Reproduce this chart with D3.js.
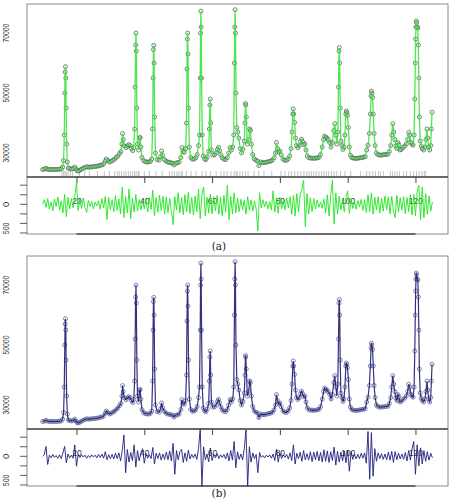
<!DOCTYPE html>
<html>
<head>
<meta charset="utf-8">
<script src="https://cdn.jsdelivr.net/npm/d3@7"></script>
<style>
  body { margin: 0; background: #fff; }
</style>
</head>
<body>
<div class="chart"></div>
<script>
const observed = [
  [10.0,24500],[10.5,24600],[11.0,24900],[11.5,24600],[12.0,24500],[12.5,24500],[13.0,24550],[13.5,24500],
  [14.0,24500],[14.5,24550],[15.0,24600],[15.5,24700],[15.9,25300],[16.2,27500],[16.4,36000],[16.55,50000],
  [16.65,57000],[16.75,58800],[16.85,55000],[16.95,45000],[17.1,33000],[17.3,27000],[17.6,25000],[18.0,24800],
  [18.5,24700],[19.0,24800],[19.5,25300],[19.8,24700],[20.2,24100],[20.6,24000],[21.0,24300],[21.5,24600],
  [22.0,24900],[22.5,25200],[23.0,25400],[23.5,25300],[24.0,25300],[24.5,25400],[25.0,25500],[25.5,25500],
  [26.0,25600],[26.5,25700],[27.0,25900],[27.5,26000],[28.0,26300],[28.5,27300],[28.8,28000],[29.2,27500],
  [29.7,27000],[30.2,27200],[30.7,27600],[31.2,27900],[31.7,28500],[32.2,29000],[32.7,29800],[33.1,30500],
  [33.4,33000],[33.6,36500],[33.8,34500],[34.1,32400],[34.6,31800],[35.0,32300],[35.4,32800],[35.8,32500],
  [36.2,31500],[36.6,30800],[36.9,31800],[37.15,38000],[37.3,52000],[37.45,66000],[37.55,70000],[37.65,64000],
  [37.8,45000],[38.0,33000],[38.3,31000],[38.6,35000],[38.8,35200],[39.0,32000],[39.3,28500],[39.8,27500],
  [40.3,27100],[40.8,27000],[41.3,27000],[41.8,27200],[42.2,28000],[42.45,38000],[42.6,55000],[42.7,64500],
  [42.8,65900],[42.9,60000],[43.05,42000],[43.3,30000],[43.8,27800],[44.4,27600],[44.8,28800],[45.1,30700],
  [45.4,29200],[45.9,27900],[46.4,27300],[46.9,27000],[47.4,26900],[47.9,26700],[48.4,26600],[48.8,26000],
  [49.3,26600],[49.8,26800],[50.3,27000],[50.8,28500],[51.1,31800],[51.4,30500],[51.8,30200],[52.2,31500],
  [52.45,40000],[52.6,58000],[52.7,68000],[52.8,70000],[52.9,63000],[53.05,45000],[53.3,32000],[53.7,28500],
  [54.2,27900],[54.7,28000],[55.2,28400],[55.6,29500],[56.0,32500],[56.3,36000],[56.5,55000],[56.6,70000],
  [56.7,77300],[56.8,72000],[56.9,55000],[57.1,36000],[57.4,29000],[57.8,28000],[58.2,27800],[58.6,28700],
  [59.0,30500],[59.2,38000],[59.35,46000],[59.45,48000],[59.6,40000],[59.8,31000],[60.2,29300],[60.7,29400],
  [61.2,30000],[61.6,31200],[61.9,31900],[62.2,30800],[62.6,29400],[63.0,28400],[63.5,27900],[64.0,27800],
  [64.5,28500],[64.9,30000],[65.3,31800],[65.7,31000],[66.1,32000],[66.4,36000],[66.6,60000],[66.7,72000],
  [66.8,77800],[66.9,70000],[67.05,50000],[67.3,38500],[67.6,37000],[67.9,35000],[68.3,31500],[68.7,30000],
  [69.1,31200],[69.5,34000],[69.7,40000],[69.85,46500],[69.95,46000],[70.1,42000],[70.4,33000],[70.8,34500],
  [71.1,38000],[71.3,37500],[71.6,33000],[72.0,29500],[72.4,28100],[72.9,27600],[73.4,27300],[73.8,25800],
  [74.3,27000],[74.8,26800],[75.3,26800],[75.8,26900],[76.3,27000],[76.8,27200],[77.3,27300],[77.8,27600],
  [78.3,28400],[78.7,30000],[79.0,33500],[79.3,31500],[79.7,30300],[80.0,30700],[80.4,29400],[80.9,28000],
  [81.4,27600],[81.9,27500],[82.4,28000],[82.9,29000],[83.3,31500],[83.6,37000],[83.8,43000],[83.95,44700],
  [84.1,43000],[84.35,40200],[84.6,35000],[84.9,32500],[85.3,31800],[85.7,32400],[86.1,33800],[86.4,34600],
  [86.7,33800],[87.0,32800],[87.4,33000],[87.7,31000],[88.1,29000],[88.6,28400],[89.1,28300],[89.6,28300],
  [90.1,28200],[90.6,28300],[91.1,28400],[91.6,28600],[92.0,29500],[92.5,32000],[92.9,34500],[93.2,35600],
  [93.5,35300],[93.9,35000],[94.3,34400],[94.7,33500],[95.1,32000],[95.5,33500],[95.9,37500],[96.2,39800],
  [96.5,36000],[96.8,33000],[97.1,37000],[97.3,52000],[97.45,64000],[97.55,65200],[97.65,60000],[97.8,45000],
  [98.0,34000],[98.3,32500],[98.6,31200],[98.9,32000],[99.2,36000],[99.45,43000],[99.6,44000],[99.75,43500],
  [99.95,42500],[100.2,38500],[100.5,32000],[100.8,29300],[101.2,28500],[101.7,28300],[102.2,28200],[102.7,28200],
  [103.2,28300],[103.7,28400],[104.2,28500],[104.7,28600],[105.2,28800],[105.6,31000],[106.0,32600],[106.4,36500],
  [106.7,43000],[106.9,49000],[107.0,50600],[107.15,50000],[107.35,48500],[107.55,43000],[107.8,36500],[108.1,32500],
  [108.5,30000],[108.9,29500],[109.4,29300],[109.9,29300],[110.4,29400],[110.9,29500],[111.4,29500],[111.9,29600],
  [112.3,30500],[112.7,32500],[113.0,36000],[113.3,39800],[113.6,37000],[113.9,34500],[114.2,32300],[114.5,31500],
  [114.8,33500],[115.1,32800],[115.4,31000],[115.8,31200],[116.3,31800],[116.8,32300],[117.3,33000],[117.7,34500],
  [118.0,36900],[118.3,36000],[118.7,33500],[119.0,33000],[119.3,32600],[119.6,36000],[119.8,48000],[119.95,60000],
  [120.05,68000],[120.15,72000],[120.25,74000],[120.35,73500],[120.5,72000],[120.7,71700],[120.85,66000],[121.0,55000],
  [121.15,42000],[121.4,34000],[121.7,32300],[122.0,31500],[122.4,31000],[122.8,32000],[123.1,34500],[123.4,38000],
  [123.6,35000],[123.9,32000],[124.2,31000],[124.5,32500],[124.7,38000],[124.9,43600]
]

// difference curves (obs - calc), one value every 0.5 deg from 10 deg
const diffStart = 10
const diffStep = 0.5
const diffA = [
  0,120,-80,150,-130,60,-170,140,-60,190,-150,90,-220,260,-320,180,-120,150,-90,200,
  590,-160,130,-110,170,-90,-210,100,-60,80,-120,60,-40,90,-130,150,-100,210,-400,180,
  -140,120,-190,230,-160,140,-250,450,-350,200,-230,400,-380,160,-200,260,-180,130,-150,90,
  -120,140,-200,180,-140,370,-300,170,-210,240,-160,210,-260,190,-220,150,-180,-530,200,-150,
  300,-230,180,-270,250,-200,310,-240,180,-280,220,-190,400,-380,260,450,-300,190,-230,270,
  -250,200,-170,230,-260,180,-300,240,-200,500,-400,210,-250,300,-220,160,-190,130,-140,110,
  -260,200,-150,120,-180,90,-110,-700,300,-90,120,-60,80,-120,70,-150,350,-200,150,-230,
  190,-120,100,-140,160,-90,200,-260,230,-300,280,-200,250,400,630,-580,280,-250,170,-190,
  150,-120,110,-80,60,-100,140,-220,250,-300,220,630,-520,300,-260,210,-150,120,-200,180,
  350,-240,150,-110,90,-130,100,-70,130,-160,120,-210,250,-190,300,-260,180,-150,200,-230,
  160,-180,220,-140,190,-250,210,-170,-350,230,-200,170,-150,200,-240,180,-190,250,-280,260,
  -300,320,500,-400,450,-350,280,-260,220,-180,60
]
const diffB = [
  0,40,260,-215,30,-40,50,-30,20,-50,40,-60,90,260,-170,60,-40,30,-50,300,
  -260,50,-30,40,-20,30,-50,20,-30,40,-20,30,-40,50,-30,60,-50,120,-90,40,
  -60,50,-70,80,-60,90,-120,150,560,-430,180,-150,100,-110,300,-280,150,-120,90,200,
  -180,70,-50,40,-60,230,-200,80,-60,90,-100,60,-80,110,-90,140,-120,340,-470,150,
  -90,120,180,-160,90,-130,160,-70,50,-40,60,-80,200,730,-770,250,-90,60,-140,220,
  -110,50,-40,70,-60,40,-30,50,-70,90,-120,150,-100,390,-300,120,-80,60,-90,200,
  690,-770,250,-150,90,-60,50,-430,100,-30,20,-40,30,-20,40,-50,60,-110,180,-150,
  90,-60,40,-30,50,-70,90,-110,300,-200,80,-60,110,-130,150,-90,70,-100,120,-140,
  110,-90,130,-120,100,-150,170,-130,140,-160,120,-110,240,-230,130,-150,110,-120,140,-170,
  160,-390,120,-80,60,-70,50,-60,80,-50,90,-180,650,-600,620,-520,200,-130,90,-60,
  70,-80,60,-90,110,-100,130,-160,120,-90,80,-70,60,-80,100,-120,150,-100,200,390,
  -470,300,-250,220,-200,150,-130,120,-100,80,-40
]

// reflection positions (2theta) shown as ticks under panel (a)
const reflections = [
  15.7,16.2,16.6,17.0,17.5,18.2,18.8,20.9,22.4,23.8,26.2,28.2,29.7,31.2,32.0,32.6,33.3,34.0,34.6,
  35.3,35.9,36.5,37.1,37.6,38.2,38.5,40.0,41.5,43.5,45.3,47.4,48.2,48.9,49.6,50.2,50.9,51.2,52.4,
  53.8,55.3,57.1,58.2,59.5,61.2,62.6,63.5,64.4,65.6,66.5,67.1,67.4,68.2,69.0,69.8,70.6,72.4,73.8,
  75.3,77.6,80.3,81.5,82.6,83.4,84.4,85.3,86.2,87.1,87.9,88.6,89.3,90.0,90.7,91.5,92.3,93.0,93.7,
  94.4,95.2,96.0,96.8,97.9,99.2,100.9,103.8,105.6,106.5,107.4,108.2,109.1,109.7,110.6,112.6,113.2,
  113.9,114.6,115.3,116.5,117.4,118.5,119.4,120.3,121.1,121.9,122.6,123.0
]

const xTicks = [20, 40, 60, 80, 100, 120]
const yTicks = [30000, 50000, 70000]
const diffTicks = [500, 250, 0, -250, -500, -750]

const width = 452
const height = 500

const svg = d3.select(".chart").append("svg")
  .attr("width", width)
  .attr("height", height)
  .style("font-family", "'Liberation Sans', Arial, sans-serif")

const x = d3.scaleLinear().domain([5.4, 129.6]).range([27, 448])

function drawPanel(top, opt) {
  const mainTop = top + 4
  const mainBottom = top + 177
  const diffBottom = top + 234

  const y = d3.scaleLinear().domain([22000, 79700]).range([mainBottom, mainTop])
  const yd = d3.scaleLinear().domain([-777, 715]).range([diffBottom, mainBottom])

  const g = svg.append("g")

  // main frame
  g.append("rect")
    .attr("x", x.range()[0]).attr("y", mainTop)
    .attr("width", x.range()[1] - x.range()[0]).attr("height", mainBottom - mainTop)
    .attr("fill", "none").attr("stroke", "#8a8a8a").attr("stroke-width", 1)

  // y labels (rotated, no ticks)
  g.selectAll(".ylab")
    .data(yTicks)
    .enter().append("text")
    .attr("transform", d => "translate(9," + y(d) + ") rotate(-90)")
    .attr("text-anchor", "middle")
    .attr("textLength", 19)
    .attr("lengthAdjust", "spacingAndGlyphs")
    .style("font-size", "9.5px")
    .attr("fill", "#333")
    .text(d => d)

  // reflection markers
  if (opt.reflections) {
    g.selectAll(".hkl")
      .data(opt.reflections)
      .enter().append("line")
      .attr("x1", d => x(d)).attr("x2", d => x(d))
      .attr("y1", mainBottom - 6).attr("y2", mainBottom - 1)
      .attr("stroke", "#9a9aa6").attr("stroke-width", 0.8).attr("opacity", 0.75)
  }

  // observed points
  g.selectAll(".obs")
    .data(observed)
    .enter().append("circle")
    .attr("cx", d => x(d[0]))
    .attr("cy", d => y(d[1]))
    .attr("r", 2)
    .attr("fill", "none")
    .attr("stroke", opt.pointColor)
    .attr("stroke-width", 0.8)

  // calculated curve
  const line = d3.line().x(d => x(d[0])).y(d => y(d[1]))
  g.append("path")
    .datum(observed)
    .attr("d", line)
    .attr("fill", "none")
    .attr("stroke", opt.lineColor)
    .attr("stroke-width", opt.lineWidth)
    .attr("opacity", 0.9)

  // difference frame
  g.append("rect")
    .attr("x", x.range()[0]).attr("y", mainBottom)
    .attr("width", x.range()[1] - x.range()[0]).attr("height", diffBottom - mainBottom)
    .attr("fill", "none").attr("stroke", "#8a8a8a").attr("stroke-width", 1)

  // x ticks hang down into the difference panel, labels sit inside it
  const xAxis = g.append("g")
    .attr("transform", "translate(0," + mainBottom + ")")
    .call(d3.axisBottom(x).tickValues(xTicks).tickSize(6).tickPadding(15))
  xAxis.select(".domain").remove()
  xAxis.selectAll("line").attr("stroke", "#444")
  xAxis.selectAll("text").attr("fill", "#333").style("font-size", "8.5px")
    .style("font-family", "'Liberation Sans', Arial, sans-serif")

  // y ticks of difference panel
  g.selectAll(".dtick")
    .data(diffTicks)
    .enter().append("line")
    .attr("x1", 20).attr("x2", 27)
    .attr("y1", d => yd(d)).attr("y2", d => yd(d))
    .attr("stroke", "#333").attr("stroke-width", 0.8)

  g.append("text")
    .attr("transform", "translate(9," + yd(0) + ") rotate(-90)")
    .attr("text-anchor", "middle")
    .style("font-size", "9.5px")
    .attr("fill", "#333")
    .text("0")

  g.append("text")
    .attr("transform", "translate(9," + (yd(-500) + 5) + ") rotate(-90)")
    .attr("text-anchor", "middle")
    .attr("textLength", 11.5)
    .attr("lengthAdjust", "spacingAndGlyphs")
    .style("font-size", "9.5px")
    .attr("fill", "#333")
    .text("500")

  // difference curve
  const diffLine = d3.line()
    .x((d, i) => x(diffStart + i * diffStep))
    .y(d => yd(d))
  g.append("path")
    .datum(opt.diff)
    .attr("d", diffLine)
    .attr("fill", "none")
    .attr("stroke", opt.diffColor)
    .attr("stroke-width", 0.9)

  // separator between the two frames and the axis line at the bottom
  g.append("line")
    .attr("x1", x.range()[0]).attr("x2", x.range()[1])
    .attr("y1", mainBottom).attr("y2", mainBottom)
    .attr("stroke", "#555").attr("stroke-width", 1.6)
  g.append("line")
    .attr("x1", x(20)).attr("x2", x(120))
    .attr("y1", diffBottom).attr("y2", diffBottom)
    .attr("stroke", "#111").attr("stroke-width", 1.2)

  // caption
  g.append("text")
    .attr("x", 219).attr("y", opt.captionY)
    .attr("text-anchor", "middle")
    .style("font-family", "'DejaVu Serif', 'Liberation Serif', serif")
    .style("font-size", "10.5px")
    .attr("fill", "#222")
    .text(opt.caption)
}

drawPanel(0, {
  reflections: reflections,
  pointColor: "#4f6d5a",
  lineColor: "#3ee03e",
  lineWidth: 1.3,
  diff: diffA,
  diffColor: "#1ee61e",
  caption: "(a)",
  captionY: 250
})

drawPanel(252, {
  reflections: null,
  pointColor: "#626a9c",
  lineColor: "#1c1c72",
  lineWidth: 1.2,
  diff: diffB,
  diffColor: "#20207e",
  caption: "(b)",
  captionY: 497
})
</script>
</body>
</html>
